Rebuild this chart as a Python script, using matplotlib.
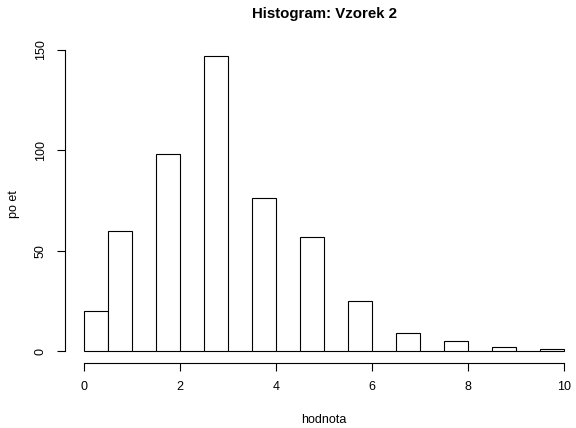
import matplotlib
matplotlib.use("Agg")
import matplotlib.pyplot as plt
import numpy as np

plt.rcParams['font.family'] = ['Liberation Sans', 'DejaVu Sans']

# data
bin_edges = [0, 0.5, 1, 1.5, 2, 2.5, 3, 3.5, 4, 4.5, 5, 5.5, 6, 6.5, 7, 7.5, 8, 8.5, 9, 9.5, 10]
counts = [20, 60, 0, 98, 0, 147, 0, 76, 0, 57, 0, 25, 0, 9, 0, 5, 0, 2, 0, 1]
x_ticks = [0, 2, 4, 6, 8, 10]
y_ticks = [0, 50, 100, 150]
title = "Histogram: Vzorek 2"
xlabel = "hodnota"
ylabel = "po et"

W, H = 576, 428
fig = plt.figure(figsize=(W / 100, H / 100), dpi=100)
left, right, top, bottom = 65, 583, 44, 363
ax = fig.add_axes([left / W, (H - bottom) / H, (right - left) / W, (bottom - top) / H])

widths = np.diff(bin_edges)
ax.bar(bin_edges[:-1], counts, width=widths, align='edge',
       facecolor='white', edgecolor='black', linewidth=0.8)

xmin, xmax = bin_edges[0], bin_edges[-1]
xr = xmax - xmin
ax.set_xlim(xmin - 0.04 * xr, xmax + 0.04 * xr)
ymax = max(counts)
ax.set_ylim(-0.04 * ymax, ymax * 1.04)

for s in ['top', 'right']:
    ax.spines[s].set_visible(False)
ax.spines['bottom'].set_bounds(x_ticks[0], x_ticks[-1])
ax.spines['left'].set_bounds(y_ticks[0], y_ticks[-1])
for s in ['bottom', 'left']:
    ax.spines[s].set_linewidth(0.8)

ax.set_xticks(x_ticks)
ax.set_yticks(y_ticks)
ax.set_yticklabels([str(v) for v in y_ticks], rotation=90, va='center')
ax.tick_params(direction='out', length=6, width=0.8, labelsize=9, pad=7)

cx = (left + right) / 2 / W
fig.text(cx, 1 - 18 / H, title, fontsize=10.8, fontweight='bold', ha='center', va='baseline')
fig.text(cx, 1 - 423 / H, xlabel, fontsize=9, ha='center', va='baseline')
fig.text(14 / W, 1 - 204 / H, ylabel, fontsize=9, ha='center', va='center', rotation=90)

fig.savefig("out.png", dpi=100)
